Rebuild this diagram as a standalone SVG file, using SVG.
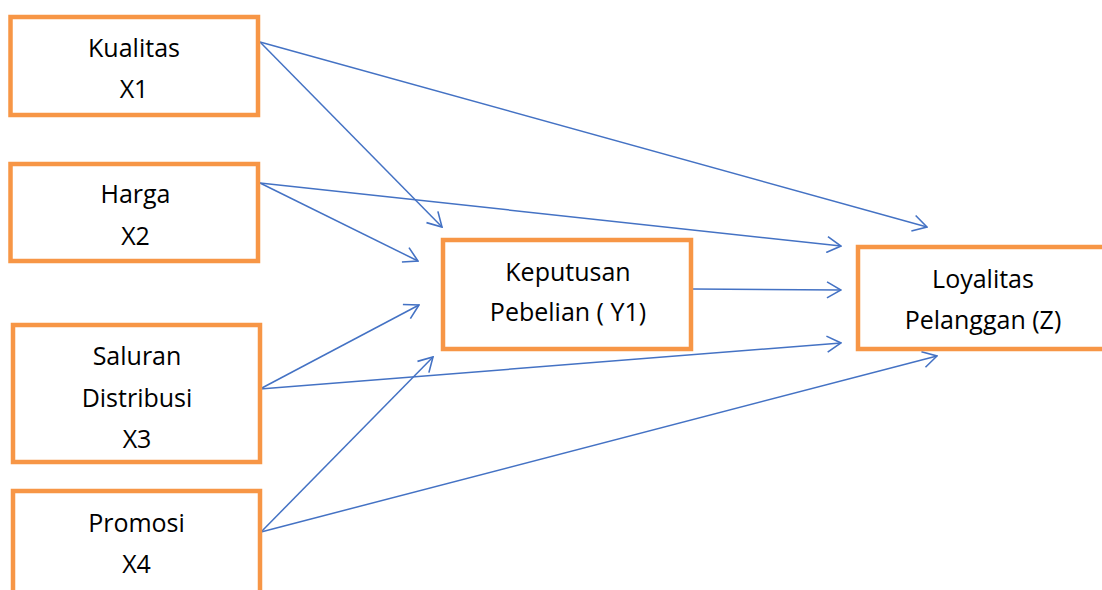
<svg xmlns="http://www.w3.org/2000/svg" width="1102" height="590" viewBox="0 0 1102 590">
<style>
.box{fill:#fff;stroke:#F79646;stroke-width:4.5}
.lbl{font-family:"Open Sans","Noto Sans",sans-serif;font-size:25px;fill:#000;text-anchor:middle}
.con{fill:none;stroke:#4472C4;stroke-width:1.5}
</style>
<defs>
<marker id="arr" markerUnits="userSpaceOnUse" viewBox="0 0 16 18" markerWidth="16" markerHeight="18" refX="15" refY="9" orient="auto">
<path d="M1,1 L15,9 L1,17" fill="none" stroke="#4472C4" stroke-width="1.6"/>
</marker>
</defs>
<rect width="1102" height="590" fill="#fff"/>
<g id="connectors">
<line class="con" x1="260" y1="42" x2="442" y2="227" marker-end="url(#arr)"/>
<line class="con" x1="260" y1="42" x2="927" y2="227" marker-end="url(#arr)"/>
<line class="con" x1="260" y1="183" x2="418" y2="261" marker-end="url(#arr)"/>
<line class="con" x1="260" y1="183" x2="841" y2="246" marker-end="url(#arr)"/>
<line class="con" x1="260" y1="389" x2="419" y2="305" marker-end="url(#arr)"/>
<line class="con" x1="260" y1="389" x2="841" y2="343" marker-end="url(#arr)"/>
<line class="con" x1="261" y1="532" x2="433" y2="357" marker-end="url(#arr)"/>
<line class="con" x1="261" y1="532" x2="937" y2="356" marker-end="url(#arr)"/>
<line class="con" x1="692" y1="289" x2="841" y2="290" marker-end="url(#arr)"/>
</g>
<g id="x1">
<rect class="box" x="10.5" y="17" width="247.5" height="98"/>
<text class="lbl" x="134" y="57">Kualitas</text>
<text class="lbl" x="134" y="98">X1</text>
</g>
<g id="x2">
<rect class="box" x="10.5" y="164" width="247.5" height="97"/>
<text class="lbl" x="135.5" y="203">Harga</text>
<text class="lbl" x="135.5" y="245">X2</text>
</g>
<g id="x3">
<rect class="box" x="13" y="325" width="247" height="137"/>
<text class="lbl" x="137" y="365">Saluran</text>
<text class="lbl" x="137" y="407">Distribusi</text>
<text class="lbl" x="137" y="448">X3</text>
</g>
<g id="x4">
<rect class="box" x="13" y="491" width="247" height="120"/>
<text class="lbl" x="136.5" y="532">Promosi</text>
<text class="lbl" x="136.5" y="573">X4</text>
</g>
<g id="y1">
<rect class="box" x="443" y="240" width="248" height="109"/>
<text class="lbl" x="568" y="281">Keputusan</text>
<text class="lbl" x="568" y="321">Pebelian ( Y1)</text>
</g>
<g id="z">
<rect class="box" x="858" y="247" width="250" height="102"/>
<text class="lbl" x="983" y="288">Loyalitas</text>
<text class="lbl" x="983" y="329">Pelanggan (Z)</text>
</g>
</svg>
